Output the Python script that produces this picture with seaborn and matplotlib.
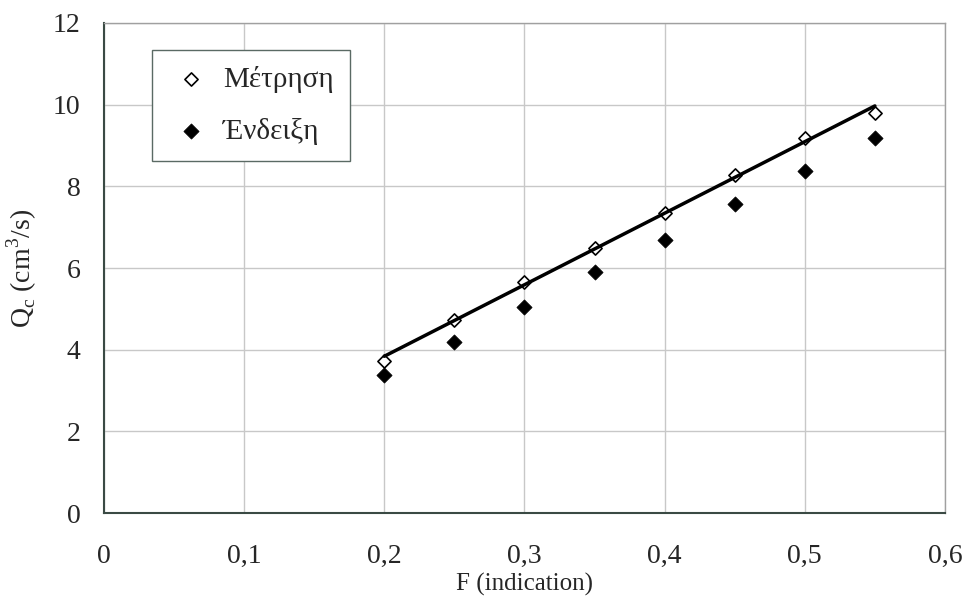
import numpy as np
import pandas as pd
import matplotlib
matplotlib.use("Agg")
import matplotlib.pyplot as plt
import seaborn as sns

# data
F = [0.20, 0.25, 0.30, 0.35, 0.40, 0.45, 0.50, 0.55]
metrisi = [3.72, 4.73, 5.66, 6.50, 7.35, 8.28, 9.19, 9.80]
endeixi = [3.38, 4.19, 5.05, 5.91, 6.69, 7.57, 8.38, 9.19]
x_ticks = [0, 0.1, 0.2, 0.3, 0.4, 0.5, 0.6]
x_labels = ["0", "0,1", "0,2", "0,3", "0,4", "0,5", "0,6"]
y_ticks = [0, 2, 4, 6, 8, 10, 12]

df = pd.DataFrame({"F": F, "Μέτρηση": metrisi, "Ένδειξη": endeixi})

sns.set_style("white")
plt.rcParams["font.family"] = ["Liberation Serif", "DejaVu Serif"]
plt.rcParams["mathtext.fontset"] = "custom"
plt.rcParams["mathtext.rm"] = "Liberation Serif"

fig = plt.figure(figsize=(9.67, 6.02), dpi=100)
ax = fig.add_axes([0.1075, 0.1478, 0.8697, 0.814])

ax.grid(True, color="#c8c8c8", linewidth=1)
ax.set_axisbelow(True)

sns.regplot(data=df, x="F", y="Μέτρηση", scatter=False, ci=None,
            line_kws={"color": "black", "linewidth": 2.5, "zorder": 4}, ax=ax)
sns.scatterplot(data=df, x="F", y="Μέτρηση", marker="D", s=45,
                facecolor="white", edgecolor="black", linewidth=1.2,
                label="Μέτρηση", zorder=3, ax=ax)
sns.scatterplot(data=df, x="F", y="Ένδειξη", marker="D", s=60,
                color="black", edgecolor="black", linewidth=0.5,
                label="Ένδειξη", zorder=3, ax=ax)

ax.set_xlim(0, 0.6)
ax.set_ylim(0, 12)
ax.set_xticks(x_ticks)
ax.set_xticklabels(x_labels)
ax.set_yticks(y_ticks)
ax.tick_params(axis="both", labelsize=20, direction="out", length=7,
               color="#555555", width=1)
ax.tick_params(axis="x", pad=15)
ax.tick_params(axis="y", pad=10)

for side in ["top", "right"]:
    ax.spines[side].set_color("#a0a0a0")
    ax.spines[side].set_linewidth(1)
for side in ["left", "bottom"]:
    ax.spines[side].set_color("#3a4a44")
    ax.spines[side].set_linewidth(1.5)

ax.set_xlabel("F (indication)", fontsize=18, labelpad=3)
ax.set_ylabel("Q$_\\mathregular{c}$ (cm$^\\mathregular{3}$/s)", fontsize=20, labelpad=10)

leg = ax.legend(loc="upper left", bbox_to_anchor=(0.057, 0.945), fontsize=21,
                frameon=True, fancybox=False, edgecolor="#5a6a64",
                labelspacing=0.85, borderpad=0.55, handletextpad=0.3,
                handlelength=1.6, borderaxespad=0, framealpha=1)
leg.get_frame().set_linewidth(1)

fig.savefig("out.png", dpi=100)
